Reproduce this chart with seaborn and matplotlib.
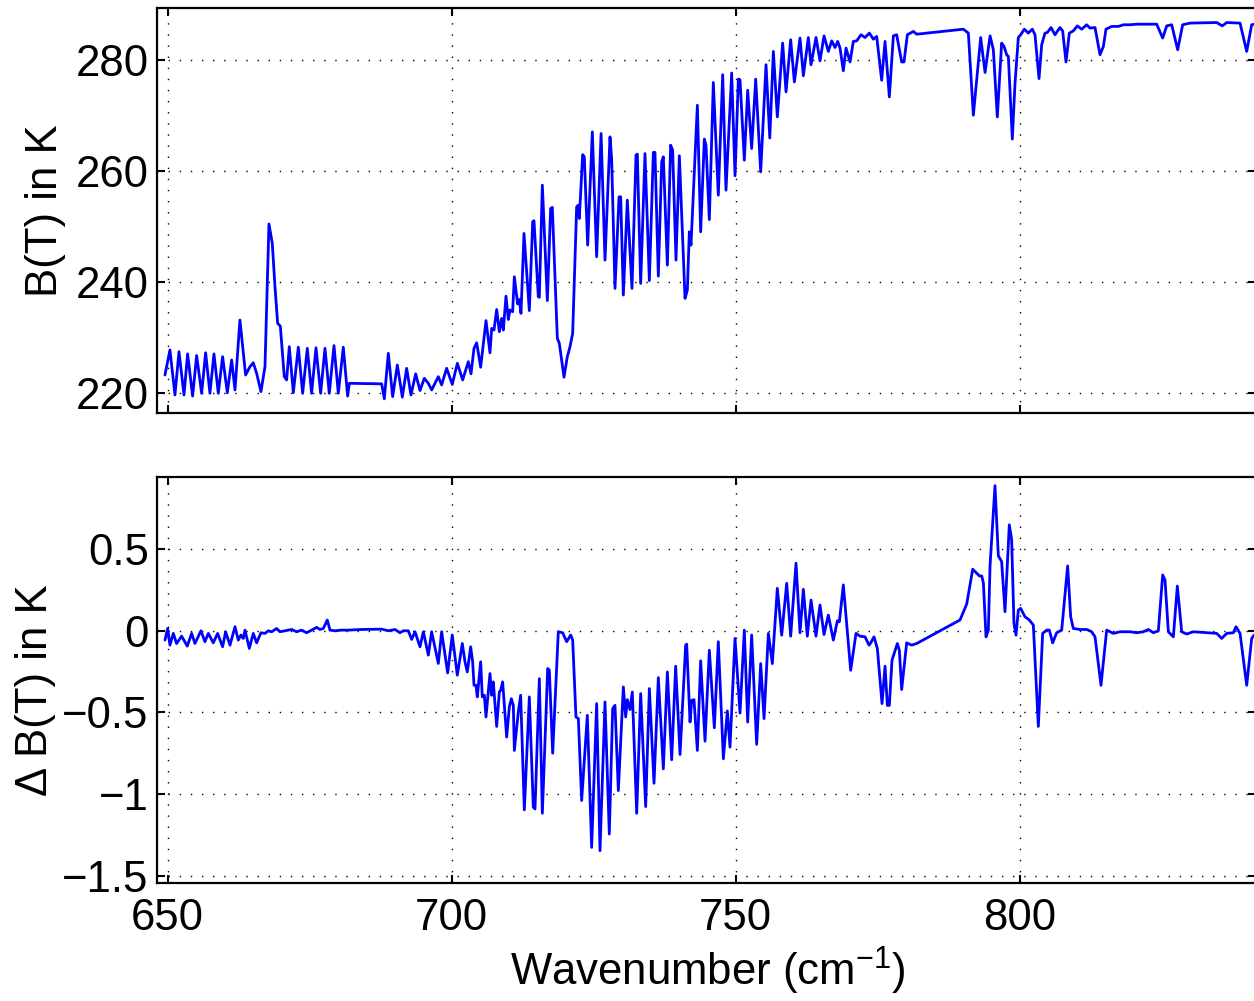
import matplotlib
matplotlib.use("Agg")
import matplotlib.pyplot as plt
import seaborn as sns
import pandas as pd

# ---------------- data ----------------
wn_top = [649.52, 650.40, 651.28, 651.99, 652.87, 653.51, 654.39, 655.10, 655.98, 656.68,
          657.44, 658.15, 658.91, 659.67, 660.50, 661.26, 661.85, 662.72, 663.72, 664.49,
          665.07, 665.66, 666.42, 667.13, 667.83, 668.42, 668.89, 669.36, 669.83, 670.53,
          670.94, 671.41, 672.12, 673.00, 673.76, 674.58, 675.34, 676.11, 676.93, 677.69,
          678.45, 679.28, 680.04, 680.92, 681.68, 681.98, 687.67, 688.14, 688.84, 689.61,
          690.43, 691.31, 692.07, 692.83, 693.66, 694.42, 695.18, 695.89, 696.47, 697.65,
          698.23, 699.11, 700.10, 701.00, 701.93, 702.93, 703.40, 703.93, 704.40, 705.10,
          706.04, 706.74, 707.04, 707.45, 707.92, 708.39, 708.80, 709.09, 709.56, 709.97,
          710.26, 710.73, 711.03, 711.61, 711.91, 712.20, 712.73, 713.67, 714.26, 714.49,
          715.25, 715.43, 715.96, 716.84, 717.42, 717.72, 718.60, 718.95, 719.77, 720.36,
          720.83, 721.30, 722.00, 722.30, 722.47, 723.06, 723.35, 723.94, 724.76, 725.52,
          726.30, 726.99, 727.87, 728.16, 728.75, 729.46, 729.75, 730.22, 730.92, 731.74,
          732.45, 732.68, 733.27, 734.03, 734.80, 735.50, 735.79, 736.38, 736.97, 737.26,
          737.97, 738.55, 738.90, 739.49, 740.08, 741.08, 741.49, 741.84, 742.13, 743.25,
          743.83, 744.48, 744.77, 745.36, 746.06, 746.94, 747.71, 748.29, 749.29, 749.88,
          750.47, 750.76, 751.52, 752.11, 752.81, 753.52, 754.40, 755.34, 756.00, 756.63,
          757.33, 758.27, 758.86, 759.68, 760.33, 761.32, 761.91, 762.79, 763.26, 764.14,
          764.84, 765.55, 766.31, 766.90, 767.49, 767.96, 768.37, 768.95, 769.42, 770.13,
          770.71, 771.30, 772.06, 772.77, 773.53, 774.24, 774.82, 775.70, 776.29, 777.05,
          777.76, 778.34, 779.22, 779.63, 780.22, 781.28, 781.86, 790.08, 790.96, 791.84,
          793.13, 793.90, 794.78, 795.36, 796.06, 796.82, 797.24, 797.70, 798.00, 798.70,
          799.17, 799.76, 800.17, 800.82, 801.52, 802.22, 802.69, 803.40, 803.87, 804.45,
          804.86, 805.51, 806.21, 807.09, 807.56, 808.15, 808.74, 809.44, 810.15, 810.91,
          811.79, 812.38, 813.26, 814.14, 814.73, 815.19, 816.19, 817.37, 818.25, 819.42,
          820.59, 821.77, 824.12, 825.17, 825.88, 826.76, 827.81, 828.69, 829.98, 834.68,
          835.68, 836.44, 838.79, 839.96, 840.84, 841.25]
bt_top = [223.3, 227.8, 219.7, 227.5, 219.7, 227.1, 219.5, 226.8, 220.0, 227.3,
          220.0, 227.1, 220.0, 226.6, 220.1, 226.0, 220.6, 233.2, 223.3, 224.8,
          225.5, 223.6, 220.3, 224.8, 250.5, 247.0, 239.2, 232.6, 232.1, 223.0,
          222.4, 228.4, 220.1, 228.3, 220.0, 228.1, 220.0, 228.2, 220.0, 228.1,
          220.0, 228.6, 220.0, 228.3, 219.5, 221.8, 221.7, 219.0, 227.2, 219.4,
          225.1, 219.3, 224.5, 219.7, 223.5, 220.5, 222.7, 221.8, 220.6, 223.0,
          221.5, 224.5, 221.6, 225.4, 222.4, 225.7, 223.5, 228.1, 229.1, 224.7,
          233.1, 227.3, 231.7, 231.4, 235.1, 231.1, 233.5, 231.4, 237.5, 233.3,
          235.0, 234.7, 241.0, 236.1, 236.9, 234.4, 248.8, 234.9, 250.9, 251.1,
          237.4, 237.3, 257.5, 236.7, 253.3, 253.5, 229.9, 229.0, 222.9, 226.6,
          228.4, 230.8, 253.6, 253.9, 251.5, 263.0, 262.6, 246.7, 267.1, 244.6,
          266.8, 244.0, 266.2, 262.3, 238.9, 255.4, 255.4, 237.7, 254.8, 238.9,
          262.9, 263.1, 239.8, 263.2, 240.3, 263.4, 263.4, 241.1, 261.7, 262.6,
          243.1, 264.7, 263.8, 244.0, 262.8, 237.1, 238.6, 249.1, 246.7, 271.9,
          249.1, 265.8, 264.7, 251.3, 276.0, 255.7, 277.4, 256.6, 277.7, 259.2,
          276.6, 276.5, 262.0, 274.6, 264.1, 276.6, 259.9, 279.2, 266.0, 281.6,
          269.8, 283.1, 274.3, 283.7, 276.1, 284.0, 277.2, 284.1, 279.2, 284.1,
          279.9, 284.4, 281.6, 283.5, 282.3, 283.4, 282.2, 278.1, 282.2, 279.7,
          283.4, 283.5, 284.6, 284.1, 284.9, 283.8, 284.3, 276.4, 283.4, 273.4,
          284.4, 284.6, 279.7, 279.7, 284.6, 285.2, 284.7, 285.6, 284.9, 270.1,
          284.1, 277.8, 284.4, 281.9, 269.8, 283.1, 282.5, 281.0, 280.7, 265.8,
          275.8, 284.1, 284.6, 285.6, 284.9, 285.6, 284.6, 276.7, 282.8, 284.9,
          285.0, 285.9, 284.6, 285.9, 285.3, 279.7, 284.9, 285.3, 286.2, 285.6,
          286.4, 285.8, 285.9, 281.0, 282.5, 285.6, 286.1, 286.1, 286.4, 286.4,
          286.5, 286.5, 286.5, 284.0, 286.2, 286.4, 281.9, 286.4, 286.7, 286.8,
          286.2, 286.8, 286.7, 281.6, 286.4, 286.5]

wn_diff = [649.52, 649.99, 650.40, 650.99, 651.57, 652.46, 653.45, 654.22, 654.80, 655.86,
           656.56, 657.15, 658.03, 658.79, 659.67, 660.20, 660.97, 661.85, 662.43, 662.90,
           663.31, 663.61, 664.37, 665.07, 665.66, 666.42, 667.13, 667.71, 668.30, 669.18,
           669.77, 670.65, 671.82, 672.70, 673.58, 674.46, 675.34, 676.23, 676.81, 677.40,
           678.10, 678.57, 679.45, 680.63, 681.80, 684.15, 687.67, 688.84, 690.02, 690.90,
           691.48, 692.36, 692.95, 693.54, 694.42, 695.01, 695.89, 696.47, 697.65, 698.23,
           699.29, 700.10, 700.99, 701.87, 702.34, 702.75, 703.34, 703.69, 703.93, 704.28,
           704.51, 705.10, 705.39, 705.75, 706.04, 706.74, 707.04, 707.33, 707.92, 708.39,
           708.62, 708.97, 709.68, 710.15, 710.50, 710.85, 711.03, 711.73, 712.14, 712.79,
           713.67, 714.37, 714.67, 715.43, 715.96, 716.90, 717.19, 717.78, 718.77, 719.54,
           720.24, 720.95, 721.30, 721.88, 722.30, 722.88, 723.88, 724.64, 725.52, 726.11,
           726.99, 727.75, 728.34, 728.75, 729.34, 730.22, 730.63, 730.92, 731.39, 731.80,
           732.57, 733.27, 734.15, 734.80, 735.62, 736.38, 737.26, 737.97, 738.73, 739.43,
           740.20, 741.19, 741.37, 741.96, 742.25, 742.66, 743.25, 743.83, 744.60, 745.36,
           746.24, 746.94, 747.83, 748.53, 749.00, 749.88, 750.76, 751.52, 752.11, 752.81,
           753.69, 754.40, 754.99, 755.75, 756.45, 757.33, 758.10, 758.98, 759.68, 760.62,
           761.32, 761.91, 762.61, 763.26, 764.14, 764.84, 765.55, 766.31, 767.19, 767.90,
           768.25, 768.95, 770.24, 771.18, 771.89, 772.77, 773.47, 773.77, 774.35, 774.94,
           775.76, 776.29, 776.70, 777.05, 777.52, 778.46, 778.81, 779.22, 780.10, 780.98,
           781.86, 789.49, 790.67, 791.73, 792.43, 792.90, 793.31, 793.60, 794.07, 794.48,
           794.78, 795.65, 796.24, 796.82, 797.41, 798.17, 798.58, 798.99, 799.35, 799.76,
           800.17, 800.93, 801.70, 802.40, 803.28, 804.04, 804.75, 805.22, 805.80, 806.51,
           807.39, 808.44, 808.97, 809.44, 810.62, 811.79, 812.67, 813.26, 814.31, 815.31,
           816.49, 817.66, 819.42, 820.59, 821.77, 822.65, 823.53, 824.41, 825.17, 825.58,
           826.17, 827.05, 827.75, 828.52, 829.40, 830.57, 832.33, 834.68, 835.56, 836.44,
           837.61, 838.08, 838.79, 839.96, 840.84, 841.25]
dbt_diff = [-0.057, 0.014, -0.088, -0.016, -0.078, -0.033, -0.094, -0.016, -0.078, 0.0,
            -0.067, -0.016, -0.074, -0.016, -0.098, -0.006, -0.088, 0.025, -0.057, -0.026,
            -0.047, 0.004, -0.108, -0.016, -0.074, -0.012, -0.016, 0.0, -0.006, 0.014,
            -0.006, 0.0, 0.008, -0.006, 0.004, -0.012, 0.004, 0.021, 0.008, 0.014,
            0.066, 0.004, 0.0, 0.004, 0.004, 0.008, 0.010, 0.0, 0.008, -0.012,
            0.0, 0.0, -0.053, -0.006, -0.098, -0.006, -0.149, -0.006, -0.200, -0.006,
            -0.258, -0.026, -0.272, -0.078, -0.190, -0.252, -0.098, -0.190, -0.334, -0.334,
            -0.405, -0.190, -0.405, -0.395, -0.528, -0.262, -0.395, -0.313, -0.586, -0.375,
            -0.365, -0.313, -0.651, -0.467, -0.416, -0.457, -0.733, -0.497, -0.395, -1.097,
            -0.405, -1.081, -1.091, -0.293, -1.118, -0.231, -0.241, -0.750, -0.006, -0.012,
            -0.067, -0.026, -0.057, -0.528, -0.538, -1.040, -0.518, -1.327, -0.446, -1.347,
            -0.436, -1.245, -0.477, -0.457, -0.979, -0.344, -0.528, -0.422, -0.483, -0.375,
            -1.118, -0.385, -1.077, -0.354, -0.934, -0.287, -0.846, -0.252, -0.790, -0.217,
            -0.758, -0.088, -0.082, -0.559, -0.426, -0.422, -0.733, -0.184, -0.676, -0.119,
            -0.594, -0.067, -0.784, -0.491, -0.713, -0.047, -0.504, 0.004, -0.559, -0.026,
            -0.696, -0.201, -0.538, -0.016, -0.201, 0.260, -0.027, 0.291, -0.033, 0.414,
            -0.012, 0.254, -0.033, 0.188, -0.033, 0.158, -0.023, 0.096, -0.057, 0.061,
            0.055, 0.281, -0.242, -0.016, -0.033, -0.037, -0.088, -0.074, -0.037, -0.109,
            -0.446, -0.217, -0.457, -0.457, -0.180, -0.078, -0.119, -0.360, -0.074, -0.088,
            -0.078, 0.066, 0.164, 0.377, 0.352, 0.336, 0.336, 0.295, -0.037, 0.004,
            0.400, 0.889, 0.459, 0.424, 0.117, 0.649, 0.557, 0.045, -0.027, 0.127,
            0.137, 0.086, 0.066, 0.035, -0.586, -0.016, 0.004, 0.004, -0.074, -0.012,
            0.004, 0.397, 0.086, 0.014, 0.008, 0.008, -0.006, -0.037, -0.334, 0.004,
            -0.016, -0.006, -0.006, -0.012, -0.006, 0.008, -0.012, 0.0, 0.342, 0.311,
            -0.006, -0.037, 0.274, -0.006, -0.020, -0.006, -0.010, -0.016, -0.047, -0.016,
            -0.012, 0.025, -0.016, -0.334, -0.047, -0.027]

x_ticks = [650, 700, 750, 800]
x_tick_labels = ["650", "700", "750", "800"]
top_y_ticks = [220, 240, 260, 280]
top_y_tick_labels = ["220", "240", "260", "280"]
bot_y_ticks = [-1.5, -1.0, -0.5, 0.0, 0.5]
bot_y_tick_labels = ["\u22121.5", "\u22121", "\u22120.5", "0", "0.5"]

top_label = "B(T) in K"
bot_label = "\u0394 B(T) in K"
x_label = "Wavenumber (cm$^{-1}$)"

# ---------------- styling ----------------
sns.set_theme(style="ticks")
plt.rcParams["font.family"] = ["Liberation Sans", "DejaVu Sans"]
plt.rcParams["mathtext.default"] = "regular"
plt.rcParams["axes.unicode_minus"] = True
plt.rcParams["text.color"] = "black"
plt.rcParams["axes.labelcolor"] = "black"
plt.rcParams["xtick.color"] = "black"
plt.rcParams["ytick.color"] = "black"
plt.rcParams["axes.edgecolor"] = "black"

FS = 31.5
LINE_COLOR = "#0000ff"

fig = plt.figure(figsize=(12.54, 10.01), dpi=100)
W, H = 1254.0, 1001.0
left_px, right_px = 157, 1256
ax1 = fig.add_axes([left_px / W, 1 - 413 / H, (right_px - left_px) / W, 405 / H])
ax2 = fig.add_axes([left_px / W, 1 - 883 / H, (right_px - left_px) / W, 406 / H])

df_top = pd.DataFrame({"wn": wn_top, "bt": bt_top})
df_bot = pd.DataFrame({"wn": wn_diff, "dbt": dbt_diff})

line_kw = dict(color=LINE_COLOR, linewidth=2.0, sort=False, estimator=None,
               solid_joinstyle="round", solid_capstyle="round")
sns.lineplot(data=df_top, x="wn", y="bt", ax=ax1, **line_kw)
sns.lineplot(data=df_bot, x="wn", y="dbt", ax=ax2, **line_kw)

xlim = (648.12, 841.60)
for ax in (ax1, ax2):
    ax.set_xlim(*xlim)
    ax.set_xticks(x_ticks)
    ax.grid(True, color="black", linestyle=(0, (1, 7)), linewidth=1.0)
    ax.tick_params(direction="in", top=True, right=True, length=6, width=1.5,
                   labelsize=FS, colors="black", labelcolor="black", pad=6)
    for sp in ax.spines.values():
        sp.set_linewidth(1.6)
        sp.set_color("black")
        sp.set_visible(True)
    ax.set_axisbelow(True)

ax1.set_ylim(216.45, 289.42)
ax1.set_yticks(top_y_ticks)
ax1.set_yticklabels(top_y_tick_labels)
ax1.set_xticklabels([])
ax1.set_xlabel("")
ax1.set_ylabel(top_label, fontsize=FS, color="black")
ax1.yaxis.set_label_coords(-0.0828, 0.5)

ax2.set_ylim(-1.545, 0.942)
ax2.set_yticks(bot_y_ticks)
ax2.set_yticklabels(bot_y_tick_labels)
ax2.set_xticklabels(x_tick_labels)
ax2.tick_params(axis="x", pad=11)
ax2.set_ylabel(bot_label, fontsize=FS, color="black")
ax2.yaxis.set_label_coords(-0.0919, 0.476)
ax2.set_xlabel(x_label, fontsize=FS, color="black")
ax2.xaxis.set_label_coords(0.501, -0.152)

fig.savefig("out.png", dpi=100)
